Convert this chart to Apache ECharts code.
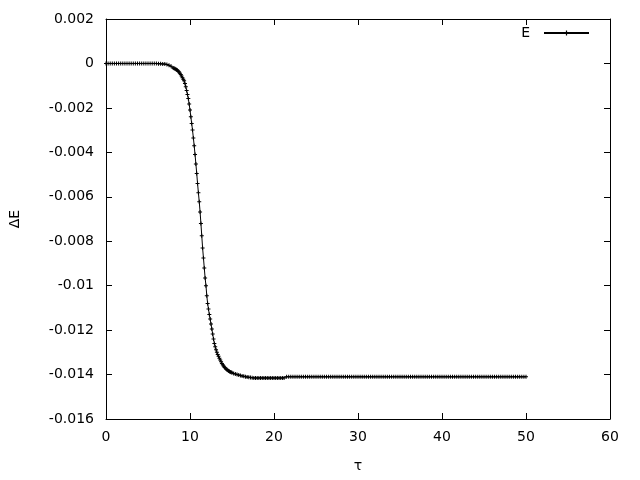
<!DOCTYPE html>
<html>
<head>
<meta charset="utf-8">
<script src="https://cdn.jsdelivr.net/npm/echarts@6/dist/echarts.min.js"></script>
<style>html,body{margin:0;padding:0;background:#fff;}#c{width:640px;height:480px;}</style>
</head>
<body>
<div id="c"></div>
<script>
const seriesName = 'E';
const xTicks = [0, 10, 20, 30, 40, 50, 60];
const yTicks = [-0.016, -0.014, -0.012, -0.01, -0.008, -0.006, -0.004, -0.002, 0, 0.002];

const tau = [
  0,0.25,0.5,0.75,1,1.25,1.5,1.75,2,2.25,2.5,2.75,3,3.25,3.5,3.75,4,4.25,4.5,4.75,5,5.25,5.5,5.75,6,
  6.25,6.5,6.75,7,7.25,7.5,7.75,
  8.0,8.1,8.2,8.3,8.4,8.5,8.6,8.7,8.8,8.9,
  9.0,9.1,9.2,9.3,9.4,9.5,9.6,9.7,9.8,9.9,
  10.0,10.1,10.2,10.3,10.4,10.5,10.6,10.7,10.8,10.9,
  11.0,11.1,11.2,11.3,11.4,11.5,11.6,11.7,11.8,11.9,
  12.0,12.1,12.2,12.3,12.4,12.5,12.6,12.7,12.8,12.9,
  13.0,13.1,13.2,13.3,13.4,13.5,13.6,13.7,13.8,13.9,
  14.0,14.1,14.2,14.3,14.4,14.5,14.6,14.7,14.8,14.9,
  15.0,
  15.2,15.4,15.6,15.8,16.0,16.2,16.4,16.6,16.8,17.0,
  17.2,17.4,17.6,17.8,18.0,18.2,18.4,18.6,18.8,19.0,19.2,19.4,19.6,19.8,20.0,20.2,20.4,20.6,20.8,21.0,21.2,
  21.5,21.75,
  22,22.25,22.5,22.75, 23,23.25,23.5,23.75, 24,24.25,24.5,24.75, 25,25.25,25.5,25.75,
  26,26.25,26.5,26.75, 27,27.25,27.5,27.75, 28,28.25,28.5,28.75, 29,29.25,29.5,29.75,
  30,30.25,30.5,30.75, 31,31.25,31.5,31.75, 32,32.25,32.5,32.75, 33,33.25,33.5,33.75,
  34,34.25,34.5,34.75, 35,35.25,35.5,35.75, 36,36.25,36.5,36.75, 37,37.25,37.5,37.75,
  38,38.25,38.5,38.75, 39,39.25,39.5,39.75, 40,40.25,40.5,40.75, 41,41.25,41.5,41.75,
  42,42.25,42.5,42.75, 43,43.25,43.5,43.75, 44,44.25,44.5,44.75, 45,45.25,45.5,45.75,
  46,46.25,46.5,46.75, 47,47.25,47.5,47.75, 48,48.25,48.5,48.75, 49,49.25,49.5,49.75,
  50
];

const dE = [
  0,0,0,0,0,0,0,0,0,0,0,0,0,0,0,0,0,0,0,0,0,0,0,0,0,
  -0.00001,-0.00001,-0.00002,-0.00003,-0.00005,-0.00008,-0.00013,
  -0.00020,-0.00022,-0.00024,-0.00026,-0.00028,-0.00031,-0.00035,-0.00039,-0.00044,-0.00050,
  -0.00057,-0.00064,-0.00071,-0.00078,-0.00090,-0.00105,-0.00122,-0.00140,-0.00158,-0.00183,
  -0.00210,-0.00240,-0.00270,-0.00300,-0.00335,-0.00370,-0.00410,-0.00452,-0.00495,-0.00540,
  -0.00582,-0.00622,-0.00668,-0.00720,-0.00775,-0.00830,-0.00875,-0.00920,-0.00965,-0.01000,
  -0.01045,-0.01080,-0.01105,-0.01130,-0.01150,-0.01173,-0.01195,-0.01218,-0.01240,-0.01260,
  -0.01275,-0.01288,-0.01300,-0.01310,-0.01318,-0.01327,-0.01335,-0.01342,-0.01350,-0.01356,
  -0.01362,-0.01367,-0.01371,-0.01375,-0.01378,-0.01381,-0.01384,-0.01386,-0.01388,-0.01390,
  -0.01392,
  -0.01395,-0.01398,-0.01400,-0.01402,-0.01404,-0.01406,-0.01408,-0.01410,-0.01411,-0.01412,
  -0.01413,-0.01414,-0.01415,-0.01415,-0.01415,-0.01415,-0.01415,-0.01415,-0.01415,-0.01415,-0.01415,-0.01415,-0.01415,-0.01415,-0.01415,-0.01415,-0.01415,-0.01415,-0.01415,-0.01415,-0.01415,
  -0.0141,-0.0141,
  -0.0141,-0.0141,-0.0141,-0.0141, -0.0141,-0.0141,-0.0141,-0.0141, -0.0141,-0.0141,-0.0141,-0.0141, -0.0141,-0.0141,-0.0141,-0.0141,
  -0.0141,-0.0141,-0.0141,-0.0141, -0.0141,-0.0141,-0.0141,-0.0141, -0.0141,-0.0141,-0.0141,-0.0141, -0.0141,-0.0141,-0.0141,-0.0141,
  -0.0141,-0.0141,-0.0141,-0.0141, -0.0141,-0.0141,-0.0141,-0.0141, -0.0141,-0.0141,-0.0141,-0.0141, -0.0141,-0.0141,-0.0141,-0.0141,
  -0.0141,-0.0141,-0.0141,-0.0141, -0.0141,-0.0141,-0.0141,-0.0141, -0.0141,-0.0141,-0.0141,-0.0141, -0.0141,-0.0141,-0.0141,-0.0141,
  -0.0141,-0.0141,-0.0141,-0.0141, -0.0141,-0.0141,-0.0141,-0.0141, -0.0141,-0.0141,-0.0141,-0.0141, -0.0141,-0.0141,-0.0141,-0.0141,
  -0.0141,-0.0141,-0.0141,-0.0141, -0.0141,-0.0141,-0.0141,-0.0141, -0.0141,-0.0141,-0.0141,-0.0141, -0.0141,-0.0141,-0.0141,-0.0141,
  -0.0141,-0.0141,-0.0141,-0.0141, -0.0141,-0.0141,-0.0141,-0.0141, -0.0141,-0.0141,-0.0141,-0.0141, -0.0141,-0.0141,-0.0141,-0.0141,
  -0.0141
];

const data = tau.map((t, i) => [t, dE[i]]);
const FONT = 'DejaVu Sans';
const FS = 14;
const cross = 'path://M0,1.5H4V2.5H0Z M1.5,0H2.5V4H1.5Z';

const axisCommon = {
  type: 'value',
  axisLine: { show: true, onZero: false, lineStyle: { color: '#000', width: 1 } },
  axisTick: { show: true, inside: true, length: 6, lineStyle: { color: '#000', width: 1 } },
  splitLine: { show: false },
  axisLabel: { color: '#000', fontFamily: FONT, fontSize: FS }
};

const chart = echarts.init(document.getElementById('c'), null, { renderer: 'canvas' });
chart.setOption({
  animation: false,
  backgroundColor: '#fff',
  grid: { left: 104, right: 30, top: 19, bottom: 61, containLabel: false },
  legend: {
    right: 50, top: 26, align: 'right', padding: 0,
    itemWidth: 45, itemHeight: 6, itemGap: 0,
    textStyle: { color: '#000', fontFamily: FONT, fontSize: FS, padding: [0, 9, 0, 0] },
    data: [seriesName]
  },
  xAxis: [
    Object.assign({}, axisCommon, {
      position: 'bottom', min: xTicks[0], max: xTicks[xTicks.length - 1], interval: 10,
      axisLabel: Object.assign({}, axisCommon.axisLabel, { margin: 11 }),
      name: 'τ', nameLocation: 'middle', nameGap: 40,
      nameTextStyle: { color: '#000', fontFamily: FONT, fontSize: FS }
    }),
    Object.assign({}, axisCommon, {
      position: 'top', min: xTicks[0], max: xTicks[xTicks.length - 1], interval: 10,
      axisLabel: { show: false }
    })
  ],
  yAxis: [
    Object.assign({}, axisCommon, {
      position: 'left', min: yTicks[0], max: yTicks[yTicks.length - 1], interval: 0.002,
      axisLabel: Object.assign({}, axisCommon.axisLabel, { margin: 12 }),
      name: 'ΔE', nameLocation: 'middle', nameGap: 84, nameRotate: 90,
      nameTextStyle: { color: '#000', fontFamily: FONT, fontSize: FS }
    }),
    Object.assign({}, axisCommon, {
      position: 'right', min: yTicks[0], max: yTicks[yTicks.length - 1], interval: 0.002,
      axisLabel: { show: false }
    })
  ],
  series: [{
    name: seriesName,
    type: 'line',
    xAxisIndex: 0, yAxisIndex: 0,
    data: data,
    symbol: cross,
    symbolSize: 4,
    showSymbol: true,
    showAllSymbol: true,
    lineStyle: { color: '#000', width: 1 },
    itemStyle: { color: '#000' },
    emphasis: { disabled: true }
  }]
});
</script>
</body>
</html>
